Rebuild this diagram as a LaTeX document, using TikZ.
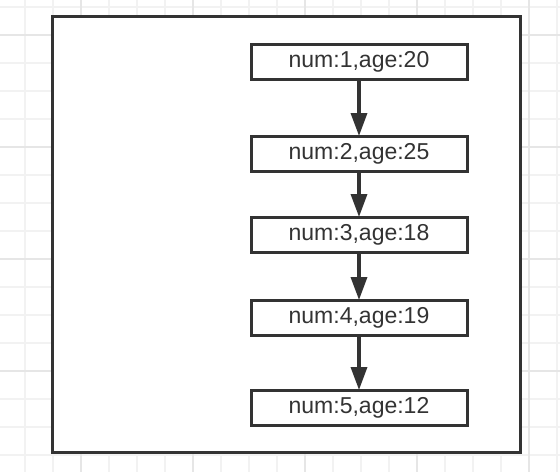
\documentclass[tikz,border=0pt]{standalone}
\usepackage{fontspec}
\setmainfont{Liberation Sans}
\usetikzlibrary{arrows.meta}
\definecolor{ink}{HTML}{333333}
\definecolor{gridminor}{HTML}{F2F2F2}
\definecolor{gridmajor}{HTML}{E6E6E6}
\tikzset{
  recbox/.style={draw=ink, line width=3pt, fill=white, minimum width=216pt, minimum height=35pt, inner sep=0pt, text=ink, font=\fontsize{23}{23}\selectfont},
  link/.style={draw=ink, line width=3.5pt, -{Triangle[length=23pt,width=16pt]}, shorten >=-1pt}
}
\begin{document}
\begin{tikzpicture}[x=1pt,y=-1pt]
\useasboundingbox (0,0) rectangle (560,472);
\fill[white] (0,0) rectangle (560,472);
% grid
\foreach \i in {0,...,19} {
  \pgfmathsetmacro{\gx}{25+28*\i}
  \draw[gridminor, line width=1.5pt] (\gx,0) -- (\gx,472);
}
\foreach \i in {0,...,16} {
  \pgfmathsetmacro{\gy}{7+28*\i}
  \draw[gridminor, line width=1.5pt] (0,\gy) -- (560,\gy);
}
\foreach \gx in {81,193,305,417,529} \draw[gridmajor, line width=1.5pt] (\gx,0) -- (\gx,472);
\foreach \gy in {35,147,259,371} \draw[gridmajor, line width=1.5pt] (0,\gy) -- (560,\gy);
% outer frame
\draw[ink, line width=3pt, fill=white] (52,16) rectangle (520,452);
% records
\node[recbox] (r1) at (359,62) {num:1,age:20};
\node[recbox] (r2) at (359,154) {num:2,age:25};
\node[recbox] (r3) at (359,235) {num:3,age:18};
\node[recbox] (r4) at (359,318) {num:4,age:19};
\node[recbox] (r5) at (359,408) {num:5,age:12};
\draw[link] (r1) -- (r2);
\draw[link] (r2) -- (r3);
\draw[link] (r3) -- (r4);
\draw[link] (r4) -- (r5);
\end{tikzpicture}
\end{document}
